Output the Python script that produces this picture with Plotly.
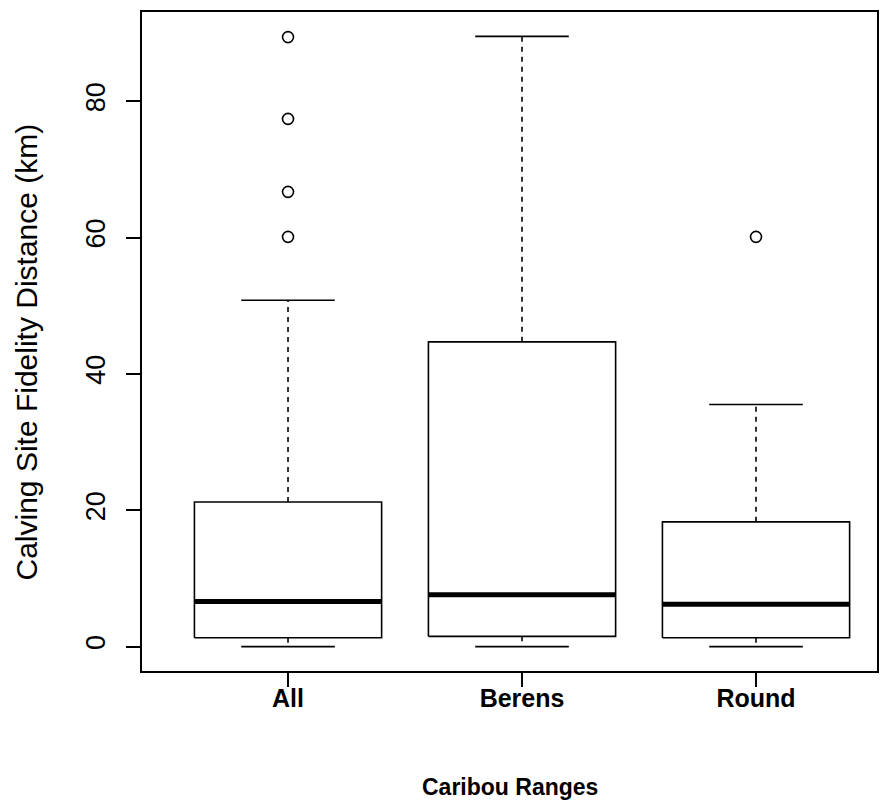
import plotly.graph_objects as go

categories = ["All", "Berens", "Round"]
lower_whisker = [0.0, 0.0, 0.0]
q1 = [1.3, 1.5, 1.3]
median = [6.6, 7.6, 6.2]
q3 = [21.2, 44.7, 18.3]
upper_whisker = [50.8, 89.5, 35.5]
outliers = [[60.1, 66.7, 77.4, 89.4], [], [60.1]]
y_ticks = [0, 20, 40, 60, 80]

BOX_HALF = 0.4
CAP_HALF = 0.2
LINE = dict(color="black", width=1.6)

fig = go.Figure()
for i, cat in enumerate(categories):
    c = i + 1
    # whiskers (dashed)
    fig.add_trace(go.Scatter(
        x=[c, c, None, c, c],
        y=[q3[i], upper_whisker[i], None, q1[i], lower_whisker[i]],
        mode="lines", line=dict(color="black", width=1.6, dash="5px,5px"),
        hoverinfo="skip", showlegend=False))
    # caps
    fig.add_trace(go.Scatter(
        x=[c - CAP_HALF, c + CAP_HALF, None, c - CAP_HALF, c + CAP_HALF],
        y=[upper_whisker[i], upper_whisker[i], None, lower_whisker[i], lower_whisker[i]],
        mode="lines", line=LINE, hoverinfo="skip", showlegend=False))
    # box
    fig.add_trace(go.Scatter(
        x=[c - BOX_HALF, c + BOX_HALF, c + BOX_HALF, c - BOX_HALF, c - BOX_HALF],
        y=[q1[i], q1[i], q3[i], q3[i], q1[i]],
        mode="lines", line=LINE, fill="toself", fillcolor="white",
        hoverinfo="skip", showlegend=False))
    # median
    fig.add_trace(go.Scatter(
        x=[c - BOX_HALF, c + BOX_HALF], y=[median[i], median[i]],
        mode="lines", line=dict(color="black", width=5),
        hoverinfo="skip", showlegend=False))
    # outliers
    if outliers[i]:
        fig.add_trace(go.Scatter(
            x=[c] * len(outliers[i]), y=outliers[i], mode="markers",
            marker=dict(symbol="circle-open", size=11, color="black",
                        line=dict(width=1.6, color="black")),
            hoverinfo="skip", showlegend=False))

all_vals = lower_whisker + upper_whisker + [v for o in outliers for v in o]
ymin, ymax = min(all_vals), max(all_vals)
pad = 0.04 * (ymax - ymin)

fig.update_layout(
    width=883, height=795,
    margin=dict(l=134, r=14, t=2, b=132),
    paper_bgcolor="white", plot_bgcolor="white",
    font=dict(family="Liberation Sans, Arial, sans-serif", color="black"),
    xaxis=dict(
        range=[0.376, 3.517], tickmode="array", tickvals=[1, 2, 3],
        ticktext=[f"<b>{c}</b>" for c in categories],
        showgrid=False, zeroline=False, showline=True, mirror=True,
        linecolor="black", linewidth=2, ticks="outside", ticklen=14,
        tickwidth=1.6, tickcolor="black",
        tickfont=dict(size=25), ticklabelstandoff=-10,
    ),
    yaxis=dict(
        range=[ymin - pad, ymax + pad], tickmode="array", tickvals=y_ticks,
        showgrid=False, zeroline=False, showline=True, mirror=True,
        linecolor="black", linewidth=2, ticks="outside", ticklen=14,
        tickwidth=1.6, tickcolor="black", tickangle=-90,
        tickfont=dict(size=27), ticklabelstandoff=10,
    ),
    annotations=[
        dict(text="<b>Caribou Ranges</b>", xref="paper", yref="paper",
             x=0.5, y=0, xanchor="center", yanchor="top", yshift=-101,
             showarrow=False, font=dict(size=23)),
        dict(text="Calving Site Fidelity Distance (km)", xref="paper", yref="paper",
             x=0, y=0.5, xanchor="center", yanchor="middle", xshift=-116, yshift=-11,
             textangle=-90, showarrow=False, font=dict(size=30)),
    ],
)

fig.write_html("out.html")
